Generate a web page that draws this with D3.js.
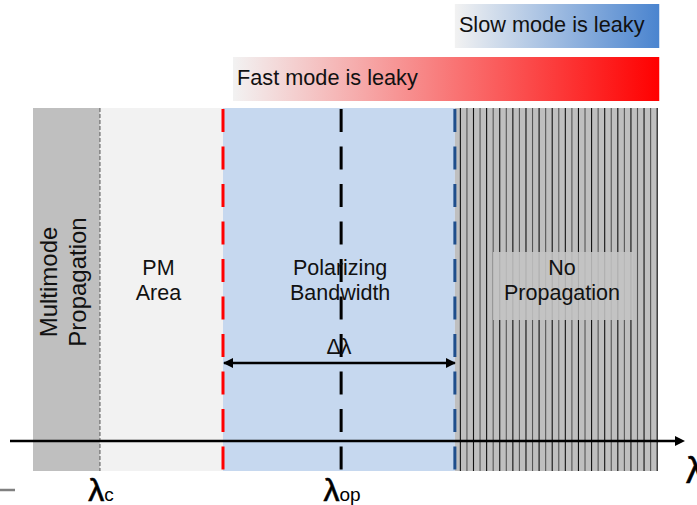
<!DOCTYPE html>
<html>
<head>
<meta charset="utf-8">
<script src="https://cdn.jsdelivr.net/npm/d3@7"></script>
<style>
  html, body { margin: 0; padding: 0; background: #ffffff; }
  svg { display: block; font-family: "Liberation Sans", Arial, sans-serif; }
</style>
</head>
<body>
<svg id="chart" width="697" height="505"></svg>
<script>
// ---- data (normalized wavelength units) ----
const regionNames = [["Multimode", "Propagation"], ["PM", "Area"], ["Polarizing", "Bandwidth"], ["No", "Propagation"]];
const regionStart = [0, 1.07, 3.04, 6.75];
const regionEnd = [1.07, 3.04, 6.75, 10];
const markerNames = ["λc", "λfast", "λop", "λslow"];
const markerValues = [1.07, 3.04, 4.93, 6.75];
const axisLabels = [{ main: "λ", sub: "c", at: 1.07 }, { main: "λ", sub: "op", at: 4.93 }];
const leakyLabels = ["Slow mode is leaky", "Fast mode is leaky"];
const leakyStart = [6.75, 3.2];
const leakyEnd = [10.02, 10.02];
const bandwidthLabel = "Δλ";
const bandwidthFrom = 3.04;
const bandwidthTo = 6.75;

// ---- styles ----
const regionFill = ["#bfbfbf", "#f2f2f2", "#c6d8ef", "#bfbfbf"];
const markerStyle = [
  { color: "#808080", width: 1.5, dash: "4,2" },
  { color: "#ff0000", width: 3, dash: "23,14.5" },
  { color: "#000000", width: 3, dash: "23,14.5" },
  { color: "#1f4e8c", width: 3, dash: "23,14.5" }
];
const leakyEndColor = ["#4a84cf", "#ff0000"];

const svg = d3.select("#chart");
const x = d3.scaleLinear().domain([0, 10]).range([33, 658]);
const yTop = 108, yBottom = 471, axisY = 441;

const defs = svg.append("defs");
leakyLabels.forEach((l, i) => {
  const g = defs.append("linearGradient").attr("id", "grad" + i)
    .attr("x1", "0%").attr("x2", "100%").attr("y1", "0%").attr("y2", "0%");
  g.append("stop").attr("offset", "0%").attr("stop-color", "#f2f2f2");
  g.append("stop").attr("offset", "100%").attr("stop-color", leakyEndColor[i]);
});
defs.append("marker").attr("id", "arrowAxis").attr("viewBox", "0 0 10 10")
  .attr("refX", 1).attr("refY", 5).attr("markerWidth", 10).attr("markerHeight", 17)
  .attr("markerUnits", "userSpaceOnUse").attr("orient", "auto")
  .append("path").attr("d", "M0,0 L10,5 L0,10 Z").attr("fill", "#000");
defs.append("marker").attr("id", "arrowBW").attr("viewBox", "0 0 10 10")
  .attr("refX", 9).attr("refY", 5).attr("markerWidth", 10).attr("markerHeight", 11)
  .attr("markerUnits", "userSpaceOnUse").attr("orient", "auto-start-reverse")
  .append("path").attr("d", "M0,0 L10,5 L0,10 Z").attr("fill", "#000");

// leaky gradient bars
const barY = [4, 57], barH = [44, 44], textBase = [32, 85];
leakyLabels.forEach((l, i) => {
  svg.append("rect").attr("x", x(leakyStart[i])).attr("y", barY[i])
    .attr("width", x(leakyEnd[i]) - x(leakyStart[i])).attr("height", barH[i])
    .attr("fill", `url(#grad${i})`);
  svg.append("text").attr("x", x(leakyStart[i]) + 4).attr("y", textBase[i])
    .attr("font-size", 21.7).attr("fill", "#111").text(l);
});

// regions
svg.selectAll("rect.region").data(regionNames).join("rect").attr("class", "region")
  .attr("x", (d, i) => x(regionStart[i])).attr("y", yTop)
  .attr("width", (d, i) => x(regionEnd[i]) - x(regionStart[i]))
  .attr("height", yBottom - yTop).attr("fill", (d, i) => regionFill[i]);

// stripes in no-propagation region
const sx0 = x(regionStart[3]) + 5.5, sx1 = x(regionEnd[3]);
const stripes = d3.range(0, Math.floor((sx1 - sx0) / 6.56) + 1);
svg.selectAll("line.stripe").data(stripes).join("line").attr("class", "stripe")
  .attr("x1", i => sx0 + i * 6.56).attr("x2", i => sx0 + i * 6.56)
  .attr("y1", yTop).attr("y2", yBottom)
  .attr("stroke", i => i % 2 === 0 ? "#111" : "#555").attr("stroke-width", 1.1);

// label box in no-propagation region
svg.append("rect").attr("x", 493).attr("y", 252).attr("width", 140).attr("height", 68)
  .attr("fill", "#c4c4c4").attr("fill-opacity", 0.88);

// marker dashed lines
svg.selectAll("line.marker").data(markerNames).join("line").attr("class", "marker")
  .attr("x1", (d, i) => x(markerValues[i])).attr("x2", (d, i) => x(markerValues[i]))
  .attr("y1", (d, i) => i === 0 ? yTop : yTop + 1).attr("y2", yBottom)
  .attr("stroke", (d, i) => markerStyle[i].color)
  .attr("stroke-width", (d, i) => markerStyle[i].width)
  .attr("stroke-dasharray", (d, i) => markerStyle[i].dash);

// region labels
const vg = svg.append("g").attr("transform", `translate(${(x(regionStart[0]) + x(regionEnd[0])) / 2 + 0.5},282) rotate(-90)`);
vg.append("text").attr("x", 0).attr("y", -10).attr("text-anchor", "middle").attr("font-size", 24).attr("fill", "#111").text(regionNames[0][0]);
vg.append("text").attr("x", 0).attr("y", 19).attr("text-anchor", "middle").attr("font-size", 24).attr("fill", "#111").text(regionNames[0][1]);

const labelCx = [null, (x(regionStart[1]) + x(regionEnd[1])) / 2 - 3, x(markerValues[2]) - 1, 562];
[1, 2, 3].forEach(i => {
  svg.append("text").attr("x", labelCx[i]).attr("y", 275).attr("text-anchor", "middle")
    .attr("font-size", 21.5).attr("fill", "#111").text(regionNames[i][0]);
  svg.append("text").attr("x", labelCx[i]).attr("y", 300).attr("text-anchor", "middle")
    .attr("font-size", 21.5).attr("fill", "#111").text(regionNames[i][1]);
});

// bandwidth double arrow
svg.append("line").attr("x1", x(bandwidthFrom) + 1).attr("x2", x(bandwidthTo))
  .attr("y1", 363).attr("y2", 363).attr("stroke", "#000").attr("stroke-width", 2.5)
  .attr("marker-start", "url(#arrowBW)").attr("marker-end", "url(#arrowBW)");
svg.append("text").attr("x", 339).attr("y", 354).attr("text-anchor", "middle")
  .attr("font-size", 21.5).attr("fill", "#111").text(bandwidthLabel);

// wavelength axis
svg.append("line").attr("x1", 10).attr("x2", 676).attr("y1", axisY).attr("y2", axisY)
  .attr("stroke", "#000").attr("stroke-width", 2.5).attr("marker-end", "url(#arrowAxis)");
svg.append("text").attr("x", 686).attr("y", 483).attr("font-size", 36).attr("fill", "#000")
  .attr("stroke", "#000").attr("stroke-width", 0.6).text("λ");

// axis labels
axisLabels.forEach(a => {
  const t = svg.append("text").attr("x", x(a.at) + 1).attr("y", 501).attr("text-anchor", "middle").attr("fill", "#000");
  t.append("tspan").attr("font-size", 32).attr("stroke", "#000").attr("stroke-width", 0.6).text(a.main);
  t.append("tspan").attr("font-size", 19).text(a.sub);
});

// stray mark at lower-left
svg.append("line").attr("x1", 0).attr("x2", 15).attr("y1", 490).attr("y2", 490)
  .attr("stroke", "#808080").attr("stroke-width", 2.5);
</script>
</body>
</html>
